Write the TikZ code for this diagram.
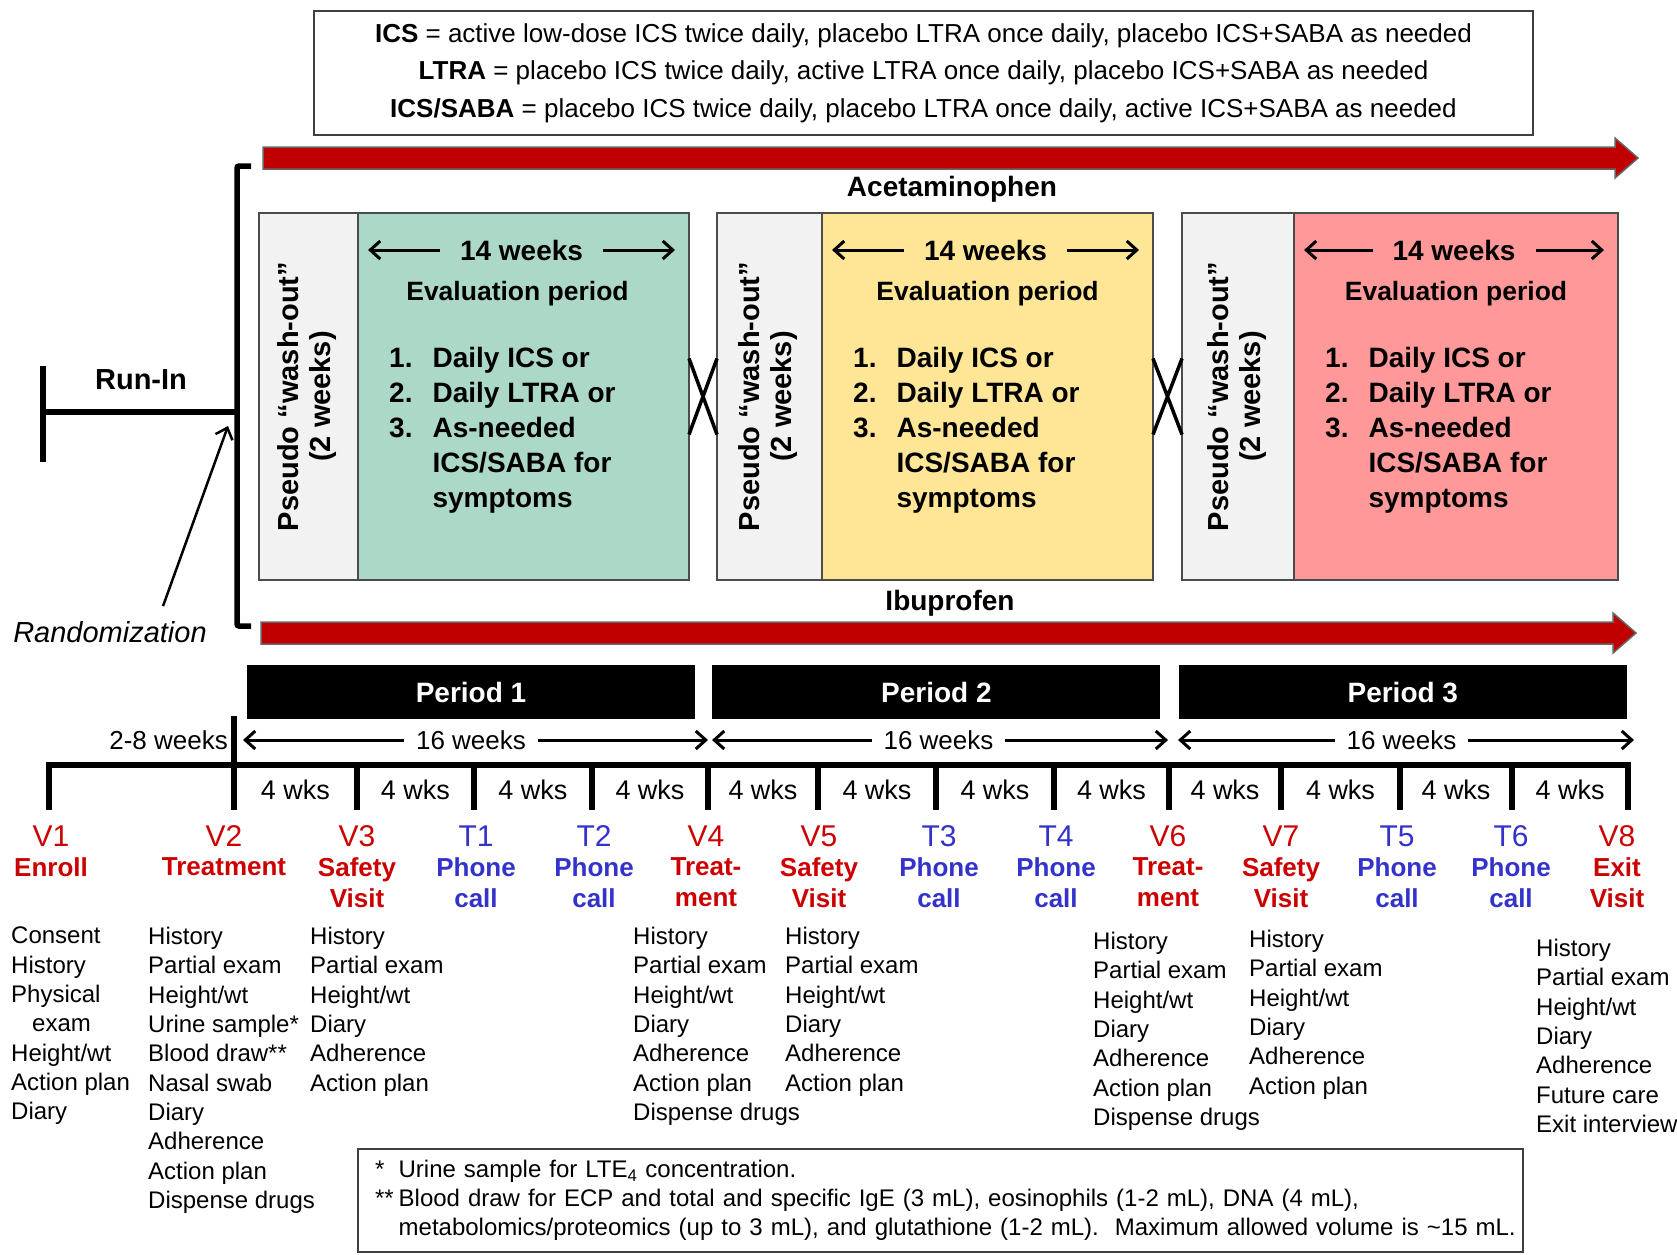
\documentclass[tikz,border=0pt]{standalone}
\usepackage{fontspec}
\setmainfont{Liberation Sans}
\usepackage{graphicx}
\usepackage{tikz}
\usetikzlibrary{arrows.meta,positioning}

\definecolor{arrowred}{RGB}{192,0,0}
\definecolor{evgreen}{RGB}{172,216,200}
\definecolor{evyellow}{RGB}{254,230,150}
\definecolor{evpink}{RGB}{255,153,153}
\definecolor{washgray}{RGB}{242,242,242}
\definecolor{vred}{RGB}{204,0,0}
\definecolor{tblue}{RGB}{51,51,204}

\begin{document}
\begin{tikzpicture}[
                x=1pt, y=-1pt,
                >={Straight Barb[length=10pt,width=18pt]},
                keybox/.style={draw=black!75, line width=2pt, minimum width=1219pt,
                              minimum height=124pt, align=center,
                              font=\fontsize{26}{37.5}\selectfont},
                drugarrow/.style={fill=arrowred, draw=black!60, line width=1.5pt},
                heavy/.style={line width=5.5pt},
                drugname/.style={font=\bfseries\fontsize{28}{32}\selectfont, inner sep=0pt},
                washout/.style={draw=black!70, line width=1.5pt, fill=washgray,
                              minimum height=367pt, inner sep=0pt, outer sep=0pt,
                              font=\bfseries\fontsize{29}{32}\selectfont},
                evalbox/.style={draw=black!70, line width=1.5pt,
                              minimum height=367pt, inner sep=0pt, outer sep=0pt},
                evweeks/.style={font=\bfseries\fontsize{28}{32}\selectfont,
                              inner xsep=20pt, inner ysep=0pt},
                evtitle/.style={font=\bfseries\fontsize{26.5}{30}\selectfont, inner sep=0pt},
                rxlist/.style={font=\bfseries\fontsize{28}{35}\selectfont,
                              anchor=base west, inner sep=0pt},
                periodbar/.style={fill=black, text=white, minimum width=448pt,
                              minimum height=54pt, inner sep=0pt,
                              font=\bfseries\fontsize{28}{32}\selectfont},
                spanlbl/.style={font=\fontsize{26}{30}\selectfont, inner xsep=12pt,
                              inner ysep=0pt},
                wkslbl/.style={font=\fontsize{27}{30}\selectfont, inner sep=0pt,
                              below=15pt},
                vcode/.style={font=\fontsize{30}{32}\selectfont, inner sep=0pt},
                vname/.style={font=\bfseries\fontsize{26}{31}\selectfont,
                              align=center, inner sep=0pt},
                tasks/.style={font=\fontsize{24}{29.3}\selectfont, align=left,
                              anchor=north west, inner sep=0pt},
                notebox/.style={draw=black!75, line width=2pt, text width=1131pt,
                              inner xsep=17pt, inner ysep=6pt, minimum height=103pt,
                              anchor=north west, font=\fontsize{24}{29}\selectfont}
            ]
            \path[use as bounding box, fill=white] (0,0) rectangle (1677,1254);

            \node[keybox] (key) at (923.5,73) {\textbf{ICS} = active low-dose ICS twice daily, placebo LTRA once daily, placebo ICS+SABA as needed\\
                \textbf{LTRA} = placebo ICS twice daily, active LTRA once daily, placebo ICS+SABA as needed\\
                \textbf{ICS/SABA} = placebo ICS twice daily, placebo LTRA once daily, active ICS+SABA as needed};

            \draw[drugarrow] (263,147) -- (1615,147) -- (1615,138) -- (1638,158) -- (1615,178) -- (1615,169) -- (263,169) -- cycle;
            \draw[drugarrow] (261,622) -- (1613,622) -- (1613,613) -- (1636,633) -- (1613,653) -- (1613,644) -- (261,644) -- cycle;
            \node[drugname] (acet) at (952,189) {Acetaminophen};
            \node[drugname] (ibu) at (950,603) {Ibuprofen};

            \draw[heavy, rounded corners=2pt] (251,166) -- (237,166) -- (237,626) -- (251,626);
            \coordinate (rand) at (237,412);
            \draw[heavy] (43,412) -- (rand);
            \draw[heavy] (43,366) -- (43,462);
            \node[font=\bfseries\fontsize{29}{32}\selectfont, inner sep=0pt] (runin) at (141,380) {Run-In};
            \node[font=\itshape\fontsize{29}{32}\selectfont, inner sep=0pt] (randlbl) at (110,632) {Randomization};
            \coordinate (randtip) at (228,426);
            \draw[->, line width=2.5pt] ([xshift=53pt,yshift=15pt]randlbl.north) -- (randtip);

            \node[washout, minimum width=99pt] (wo1) at (308.5,396.5) {\rotatebox{90}{\begin{tabular}{@{}c@{}}Pseudo “wash-out”\\(2 weeks)\end{tabular}}};
            \node[evalbox, fill=evgreen, minimum width=331pt, right=0pt of wo1] (ev1) {};
            \node[washout, minimum width=105pt, right=28pt of ev1] (wo2) {\rotatebox{90}{\begin{tabular}{@{}c@{}}Pseudo “wash-out”\\(2 weeks)\end{tabular}}};
            \node[evalbox, fill=evyellow, minimum width=331pt, right=0pt of wo2] (ev2) {};
            \node[washout, minimum width=112pt, right=29pt of ev2] (wo3) {\rotatebox{90}{\begin{tabular}{@{}c@{}}Pseudo “wash-out”\\(2 weeks)\end{tabular}}};
            \node[evalbox, fill=evpink, minimum width=324pt, right=0pt of wo3] (ev3) {};

            \draw[<->, line width=3pt] ([xshift=10pt,yshift=-37pt]ev1.north west) -- node[evweeks, fill=evgreen] (fw1) {14 weeks} ([xshift=-14pt,yshift=-37pt]ev1.north east);
            \draw[<->, line width=3pt] ([xshift=10pt,yshift=-37pt]ev2.north west) -- node[evweeks, fill=evyellow] (fw2) {14 weeks} ([xshift=-14pt,yshift=-37pt]ev2.north east);
            \draw[<->, line width=3pt] ([xshift=10pt,yshift=-37pt]ev3.north west) -- node[evweeks, fill=evpink] (fw3) {14 weeks} ([xshift=-14pt,yshift=-37pt]ev3.north east);
            \node[evtitle] (ep1) at ([xshift=-6pt,yshift=-81pt]ev1.north) {Evaluation period};
            \node[evtitle] (ep2) at ([yshift=-81pt]ev2.north) {Evaluation period};
            \node[evtitle] (ep3) at ([yshift=-81pt]ev3.north) {Evaluation period};
            \node[rxlist] (rx1) at ([xshift=31pt,yshift=-154pt]ev1.north west) {\begin{tabular}[t]{@{}l@{\hspace{20pt}}l@{}}1. & Daily ICS or\\2. & Daily LTRA or\\3. & As-needed\\ & ICS/SABA for\\ & symptoms\end{tabular}};
            \node[rxlist] (rx2) at ([xshift=31pt,yshift=-154pt]ev2.north west) {\begin{tabular}[t]{@{}l@{\hspace{20pt}}l@{}}1. & Daily ICS or\\2. & Daily LTRA or\\3. & As-needed\\ & ICS/SABA for\\ & symptoms\end{tabular}};
            \node[rxlist] (rx3) at ([xshift=31pt,yshift=-154pt]ev3.north west) {\begin{tabular}[t]{@{}l@{\hspace{20pt}}l@{}}1. & Daily ICS or\\2. & Daily LTRA or\\3. & As-needed\\ & ICS/SABA for\\ & symptoms\end{tabular}};

            \draw[line width=3.5pt] ([yshift=38pt]ev1.east) -- ([yshift=-38pt]wo2.west) ([yshift=-38pt]ev1.east) -- ([yshift=38pt]wo2.west);
            \draw[line width=3.5pt] ([yshift=38pt]ev2.east) -- ([yshift=-38pt]wo3.west) ([yshift=-38pt]ev2.east) -- ([yshift=38pt]wo3.west);

            \node[periodbar] (per1) at (471,692) {Period 1};
            \node[periodbar, right=17pt of per1] (per2) {Period 2};
            \node[periodbar, right=18pt of per2] (per3) {Period 3};

            \coordinate (k0) at (49,765);
            \coordinate (k1) at (234,765);
            \coordinate (k2) at (357,765);
            \coordinate (k3) at (474,765);
            \coordinate (k4) at (592,765);
            \coordinate (k5) at (708,765);
            \coordinate (k6) at (818,765);
            \coordinate (k7) at (936,765);
            \coordinate (k8) at (1054,765);
            \coordinate (k9) at (1169,765);
            \coordinate (k10) at (1281,765);
            \coordinate (k11) at (1400,765);
            \coordinate (k12) at (1512,765);
            \coordinate (k13) at (1628,765);
            \draw[heavy, line cap=rect] (k0) -- (k13);
            \draw[heavy] (k0) -- ++(0,45) ([yshift=49pt]k1) -- ++(0,94) (k2) -- ++(0,45) (k3) -- ++(0,45)
                (k4) -- ++(0,45) (k5) -- ++(0,45) (k6) -- ++(0,45) (k7) -- ++(0,45) (k8) -- ++(0,45)
                (k9) -- ++(0,45) (k10) -- ++(0,45) (k11) -- ++(0,45) (k12) -- ++(0,45) (k13) -- ++(0,45);
            \path (k1) -- node[wkslbl] (s1) {4 wks} (k2) -- node[wkslbl] (s2) {4 wks} (k3)
                -- node[wkslbl] (s3) {4 wks} (k4) -- node[wkslbl] (s4) {4 wks} (k5)
                -- node[wkslbl] (s5) {4 wks} (k6) -- node[wkslbl] (s6) {4 wks} (k7)
                -- node[wkslbl] (s7) {4 wks} (k8) -- node[wkslbl] (s8) {4 wks} (k9)
                -- node[wkslbl] (s9) {4 wks} (k10) -- node[wkslbl] (s10) {4 wks} (k11)
                -- node[wkslbl] (s11) {4 wks} (k12) -- node[wkslbl] (s12) {4 wks} (k13);

            \node[spanlbl, anchor=east, inner xsep=0pt] (runwk) at (228,740) {2-8 weeks};
            \draw[<->, line width=3pt, shorten <=9pt] ([yshift=25pt]k1) -- node[spanlbl, fill=white] (sx1) {16 weeks} ([yshift=25pt]k5);
            \draw[<->, line width=3pt, shorten <=4pt, shorten >=1pt] ([yshift=25pt]k5) -- node[spanlbl, fill=white] (sx2) {16 weeks} ([yshift=25pt]k9);
            \draw[<->, line width=3pt, shorten <=9pt] ([yshift=25pt]k9) -- node[spanlbl, fill=white] (sx3) {16 weeks} ([xshift=6pt,yshift=25pt]k13);

            \node[vcode, text=vred] (v1) at (51,836) {V1};
            \node[vname, text=vred, below=11pt of v1] (v1n) {Enroll};
            \node[vcode, text=vred] (v2) at (224,836) {V2};
            \node[vname, text=vred, below=11pt of v2] (v2n) {Treatment};
            \node[vcode, text=vred] (v3) at (357,836) {V3};
            \node[vname, text=vred, below=11pt of v3] (v3n) {Safety\\Visit};
            \node[vcode, text=tblue] (t1) at (476,836) {T1};
            \node[vname, text=tblue, below=11pt of t1] (t1n) {Phone\\call};
            \node[vcode, text=tblue] (t2) at (594,836) {T2};
            \node[vname, text=tblue, below=11pt of t2] (t2n) {Phone\\call};
            \node[vcode, text=vred] (v4) at (706,836) {V4};
            \node[vname, text=vred, below=11pt of v4] (v4n) {Treat-\\ment};
            \node[vcode, text=vred] (v5) at (819,836) {V5};
            \node[vname, text=vred, below=11pt of v5] (v5n) {Safety\\Visit};
            \node[vcode, text=tblue] (t3) at (939,836) {T3};
            \node[vname, text=tblue, below=11pt of t3] (t3n) {Phone\\call};
            \node[vcode, text=tblue] (t4) at (1056,836) {T4};
            \node[vname, text=tblue, below=11pt of t4] (t4n) {Phone\\call};
            \node[vcode, text=vred] (v6) at (1168,836) {V6};
            \node[vname, text=vred, below=11pt of v6] (v6n) {Treat-\\ment};
            \node[vcode, text=vred] (v7) at (1281,836) {V7};
            \node[vname, text=vred, below=11pt of v7] (v7n) {Safety\\Visit};
            \node[vcode, text=tblue] (t5) at (1397,836) {T5};
            \node[vname, text=tblue, below=11pt of t5] (t5n) {Phone\\call};
            \node[vcode, text=tblue] (t6) at (1511,836) {T6};
            \node[vname, text=tblue, below=11pt of t6] (t6n) {Phone\\call};
            \node[vcode, text=vred] (v8) at (1617,836) {V8};
            \node[vname, text=vred, below=11pt of v8] (v8n) {Exit\\Visit};

            \node[tasks] (l1) at (11,927) {Consent\\History\\Physical\\\hspace*{21pt}exam\\Height/wt\\Action plan\\Diary};
            \node[tasks] (l2) at (148,927) {History\\Partial exam\\Height/wt\\Urine sample*\\Blood draw**\\Nasal swab\\Diary\\Adherence\\Action plan\\Dispense drugs};
            \node[tasks] (l3) at (310,927) {History\\Partial exam\\Height/wt\\Diary\\Adherence\\Action plan};
            \node[tasks] (l4) at (633,927) {History\\Partial exam\\Height/wt\\Diary\\Adherence\\Action plan\\Dispense drugs};
            \node[tasks] (l5) at (785,927) {History\\Partial exam\\Height/wt\\Diary\\Adherence\\Action plan};
            \node[tasks] (l6) at (1093,932) {History\\Partial exam\\Height/wt\\Diary\\Adherence\\Action plan\\Dispense drugs};
            \node[tasks] (l7) at (1249,930) {History\\Partial exam\\Height/wt\\Diary\\Adherence\\Action plan};
            \node[tasks] (l8) at (1536,939) {History\\Partial exam\\Height/wt\\Diary\\Adherence\\Future care\\Exit interview};

            \node[notebox] (notes) at (357,1148) {\begin{tabular}{@{}l@{\hspace{5pt}}l@{}}{*}&Urine sample for LTE\textsubscript{4} concentration.\\
                {**}&Blood draw for ECP and total and specific IgE (3 mL), eosinophils (1-2 mL), DNA (4 mL),\\
                &metabolomics/proteomics (up to 3 mL), and glutathione (1-2 mL).\ \ Maximum allowed volume is \textasciitilde15 mL.\end{tabular}};
\end{tikzpicture}
\end{document}
